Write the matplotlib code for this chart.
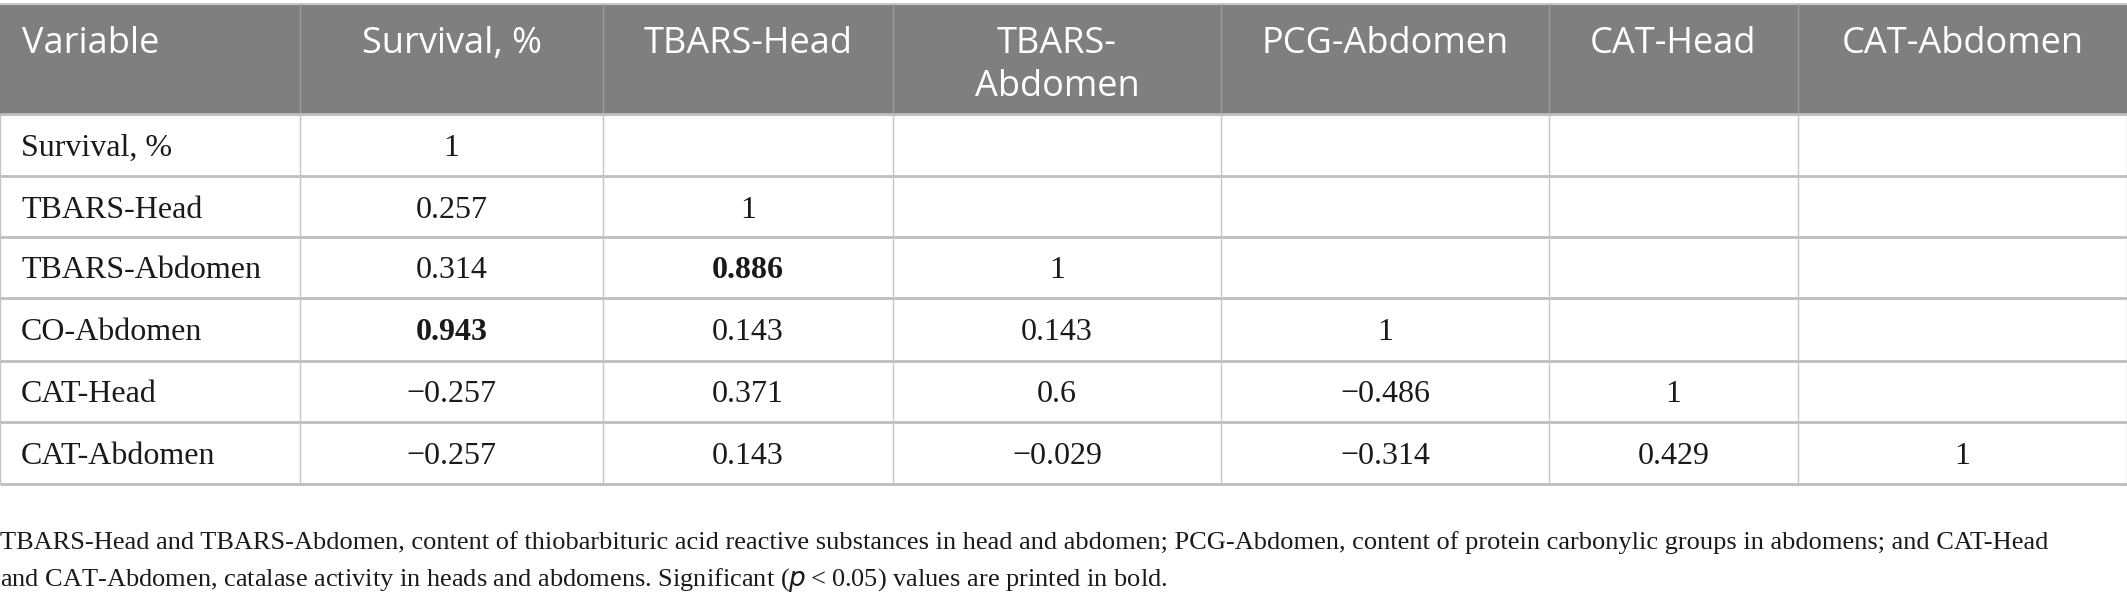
import matplotlib
matplotlib.use('Agg')
import matplotlib.pyplot as plt
from matplotlib.patches import Rectangle

headers = ['Variable', 'Survival, %', 'TBARS-Head', 'TBARS-\nAbdomen',
           'PCG-Abdomen', 'CAT-Head', 'CAT-Abdomen']
row_names = ['Survival, %', 'TBARS-Head', 'TBARS-Abdomen', 'CO-Abdomen',
             'CAT-Head', 'CAT-Abdomen']
values = [
    ['1', '', '', '', '', ''],
    ['0.257', '1', '', '', '', ''],
    ['0.314', '0.886', '1', '', '', ''],
    ['0.943', '0.143', '0.143', '1', '', ''],
    ['\u22120.257', '0.371', '0.6', '\u22120.486', '1', ''],
    ['\u22120.257', '0.143', '\u22120.029', '\u22120.314', '0.429', '1'],
]
bold_cells = [(2, 1), (3, 0)]
caption = ('TBARS-Head and TBARS-Abdomen, content of thiobarbituric acid reactive substances in head and abdomen; '
           'PCG-Abdomen, content of protein carbonylic groups in abdomens; and CAT-Head\n'
           'and CAT-Abdomen, catalase activity in heads and abdomens. Significant ($\\it{p}$\u2009<\u20090.05) '
           'values are printed in bold.')

W, H = 2127, 599
col_edges = [0, 300, 603, 893, 1221, 1549, 1798, 2127]
row_edges = [4, 114, 176, 237, 298, 361, 422, 484]

fig = plt.figure(figsize=(W / 100, H / 100), dpi=100)
ax = fig.add_axes([0, 0, 1, 1])
ax.set_xlim(0, W)
ax.set_ylim(H, 0)
ax.axis('off')

serif = 'Liberation Serif'
sans = 'Open Sans'

# header band
ax.add_patch(Rectangle((0, row_edges[0]), W, row_edges[1] - row_edges[0],
                       facecolor='#7f7f7f', edgecolor='none'))
ax.hlines(row_edges[0], 0, W, color='#c8c8c8', lw=1.5)
for x in col_edges[1:-1]:
    ax.vlines(x, row_edges[0], row_edges[1], color='#9a9a9a', lw=1)

line_gap = 43
for j, h in enumerate(headers):
    y = 53 + line_gap * h.count('\n')
    if j == 0:
        ax.text(col_edges[0] + 22, y, h, color='white', fontsize=26, family=sans,
                ha='left', va='baseline', linespacing=1.27)
    else:
        cx = (col_edges[j] + col_edges[j + 1]) / 2
        ax.text(cx, y, h, color='white', fontsize=26, family=sans,
                ha='center', va='baseline', linespacing=1.27)

# body grid
for y in row_edges[1:]:
    ax.hlines(y, 0, W, color='#bdbdbd', lw=2)
for x in col_edges:
    ax.vlines(x, row_edges[1], row_edges[-1], color='#c4c4c4', lw=1)

for i, name in enumerate(row_names):
    base = (row_edges[i + 1] + row_edges[i + 2]) / 2 + 11
    ax.text(col_edges[0] + 21, base, name, fontsize=23, family=serif,
            ha='left', va='baseline', color='#1a1a1a')
    for j, v in enumerate(values[i]):
        if not v:
            continue
        cx = (col_edges[j + 1] + col_edges[j + 2]) / 2
        ax.text(cx, base, v, fontsize=23, family=serif, ha='center', va='baseline',
                color='#1a1a1a',
                fontweight='bold' if (i, j) in bold_cells else 'normal')

ax.text(0, 586, caption, fontsize=19, family=serif, ha='left', va='baseline',
        color='#1a1a1a', linespacing=1.62)

fig.savefig('out.png', dpi=100)
